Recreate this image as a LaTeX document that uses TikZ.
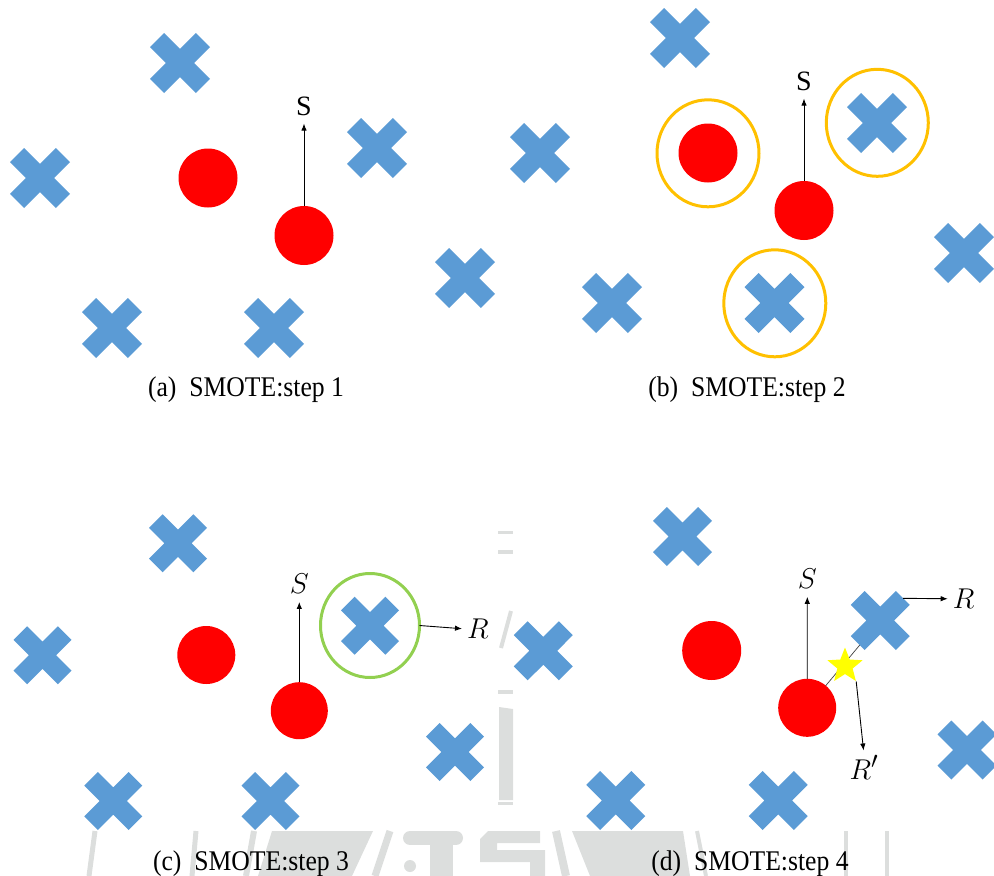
\RequirePackage{fix-cm}
\documentclass[tikz,border=0pt]{standalone}
\usepackage{fontspec}
\setmainfont{Liberation Serif}
\newfontfamily\capfont{Liberation Serif}[FakeStretch=0.9]
\usetikzlibrary{shapes.geometric,arrows.meta,backgrounds}
\definecolor{xblue}{HTML}{5B9BD5}
\definecolor{ringorange}{HTML}{FFC000}
\definecolor{ringgreen}{HTML}{92D050}
\definecolor{wm}{HTML}{DCDEDD}
\definecolor{redpt}{HTML}{FF0000}
\definecolor{staryellow}{HTML}{FFFF00}
\newcommand{\mlabtext}[1]{\scalebox{1.15}{$#1$}}
\begin{document}
\begin{tikzpicture}[x=1pt,y=-1pt,
  xmark/.style={minimum size=#1pt, inner sep=0pt, outer sep=0pt,
    path picture={
      \fill[xblue, shift={(path picture bounding box.center)}]
        (0,{0.2357*#1}) -- ({0.265*#1},{0.5*#1}) -- ({0.5*#1},{0.265*#1}) --
        ({0.2357*#1},0) -- ({0.5*#1},{-0.265*#1}) -- ({0.265*#1},{-0.5*#1}) --
        (0,{-0.2357*#1}) -- ({-0.265*#1},{-0.5*#1}) -- ({-0.5*#1},{-0.265*#1}) --
        ({-0.2357*#1},0) -- ({-0.5*#1},{0.265*#1}) -- ({-0.265*#1},{0.5*#1}) -- cycle;}},
  reddot/.style={circle, fill=redpt, minimum size=#1pt, inner sep=0pt, outer sep=0pt},
  orring/.style={ellipse, draw=ringorange, line width=3pt, minimum width=102pt, minimum height=107pt, inner sep=0pt, outer sep=0pt},
  grring/.style={ellipse, draw=ringgreen, line width=3pt, minimum width=99pt, minimum height=104pt, inner sep=0pt, outer sep=0pt},
  lab/.style={inner sep=1pt, font=\fontsize{28}{30}\selectfont},
  mlab/.style={inner sep=1pt, font=\fontsize{24.88}{28}\selectfont},
  captext/.style={inner sep=0pt, anchor=base, font=\capfont\fontsize{28.5}{30}\selectfont},
  arr/.style={-{Latex[length=7pt,width=5.5pt]}, line width=0.9pt, black},
  thinline/.style={line width=0.7pt, black!75}
]
\useasboundingbox (0,0) rectangle (994,876);

% ---------- watermark (faint background) ----------
\draw[wm, line width=5pt] (95,831) -- (89,876);
\draw[wm, line width=5pt] (196,831) -- (192,876);
\draw[wm, line width=6pt] (254,831) -- (246,876);
\fill[wm] (272,831) -- (373,831) -- (352,876) -- (258,876) -- cycle;
\draw[wm, line width=7pt] (390,831) -- (375,876);
\draw[wm, line width=14pt, line cap=round] (410,838) -- (456,838);
\fill[wm] (430,845) rectangle (453,876);
\fill[wm] (410,866) circle (6);
\fill[wm] (488,831) -- (540,831) -- (540,843) -- (497,843) -- (497,850) -- (545,850)
  -- (545,876) -- (530,876) -- (530,862) -- (480,862) -- (480,839) -- cycle;
\draw[wm, line width=8pt] (556,831) -- (566,876);
\fill[wm] (572,831) -- (683,831) -- (690,876) -- (590,876) -- cycle;
\draw[wm, line width=4pt] (697,831) -- (706,876);
\draw[wm, line width=4pt] (846,831) -- (846,876);
\draw[wm, line width=4pt] (887,831) -- (887,876);
\fill[wm] (498,530.5) rectangle (513,533.5);
\fill[wm] (498,550) rectangle (513,554);
\draw[wm, line width=4pt] (511,611) -- (501,648);
\fill[wm] (498,690) rectangle (513,694);
\fill[wm] (499,707) -- (513,709) -- (513,800) -- (499,800) -- cycle;
\fill[wm] (498,802) rectangle (513,805);

% ---------- (a) ----------
\node[xmark=60] (a1) at (180,63) {};
\node[xmark=60] (a2) at (40,178) {};
\node[xmark=60] (a3) at (377,148) {};
\node[xmark=60] (a4) at (112,328) {};
\node[xmark=60] (a5) at (274,328) {};
\node[xmark=60] (a6) at (465,278) {};
\node[reddot=59] (ar1) at (208,178) {};
\node[reddot=59] (ar2) at (304,235.5) {};
\node[lab] (aS) at (304,106) {S};
\draw[arr, shorten >=7pt] (ar2.north) -- (aS.south);
\node[captext] (capa) at (246,396) {(a)\hspace{0.45em}SMOTE:step 1};

% ---------- (b) ----------
\node[xmark=60] (b1) at (680,38) {};
\node[xmark=60] (b2) at (540,153) {};
\node[xmark=60] (b3) at (877,123) {};
\node[xmark=60] (b4) at (612,303) {};
\node[xmark=60] (b5) at (774.5,303) {};
\node[xmark=60] (b6) at (964,253) {};
\node[reddot=59] (br1) at (708,153) {};
\node[reddot=59] (br2) at (804,210.5) {};
\node[orring] (o1) at (708,153.3) {};
\node[orring] (o2) at (877.3,122.8) {};
\node[orring] (o3) at (774.8,303.3) {};
\node[lab] (bS) at (804,81) {S};
\draw[arr, shorten >=7pt] (br2.north) -- (bS.south);
\node[captext] (capb) at (747,396) {(b)\hspace{0.45em}SMOTE:step 2};

% ---------- (c) ----------
\node[xmark=58] (c1) at (178,543.3) {};
\node[xmark=58] (c2) at (42.5,655.3) {};
\node[xmark=58] (c3) at (113.3,801) {};
\node[xmark=58] (c4) at (270.5,801) {};
\node[xmark=58] (c5) at (455,752) {};
\node[xmark=58] (c6) at (370,625.7) {};
\node[reddot=58] (cr1) at (206.3,655) {};
\node[reddot=57] (cr2) at (299.3,710.7) {};
\node[grring] (g) at (370,625.5) {};
\node[mlab] (cS) at (299.3,584) {\mlabtext{S}};
\draw[arr, shorten >=7pt] (cr2.north) -- (cS.south);
\node[mlab] (cR) at (478,629) {\mlabtext{R}};
\draw[arr, shorten >=4pt] (g.east) -- (cR.west);
\node[captext] (capc) at (251,870.5) {(c)\hspace{0.45em}SMOTE:step 3};

% ---------- (d) ----------
\node[xmark=59] (d1) at (682.5,536.5) {};
\node[xmark=59] (d2) at (543.3,650.8) {};
\node[xmark=59] (d3) at (615.8,800.5) {};
\node[xmark=59] (d4) at (778.2,800.5) {};
\node[xmark=59] (d5) at (967,750) {};
\node[xmark=59] (d6) at (880.3,620.5) {};
\node[reddot=59] (dr1) at (711.7,650.5) {};
\node[reddot=58] (dr2) at (807.2,707.8) {};
\begin{scope}[on background layer]
  \draw[thinline] (dr2.center) -- (d6.center);
\end{scope}
\node[star, star points=5, star point ratio=2.3, minimum size=37pt, inner sep=0pt, fill=staryellow] (dst) at (845,666) {};
\node[mlab] (dS) at (807.3,578.8) {\mlabtext{S}};
\draw[arr, shorten >=7pt] (dr2.north) -- (dS.south);
\coordinate (d6r) at (903,598.3);
\node[mlab] (dR) at (963.7,598.8) {\mlabtext{R}};
\draw[arr, shorten >=4pt] (d6r) -- (dR.west);
\node[mlab] (dRp) at (864,767.5) {\mlabtext{R'}};
\draw[arr, shorten >=4pt] (dst.outer point 4) -- (dRp.north);
\node[captext] (capd) at (750,870.5) {(d)\hspace{0.45em}SMOTE:step 4};
\end{tikzpicture}
\end{document}
